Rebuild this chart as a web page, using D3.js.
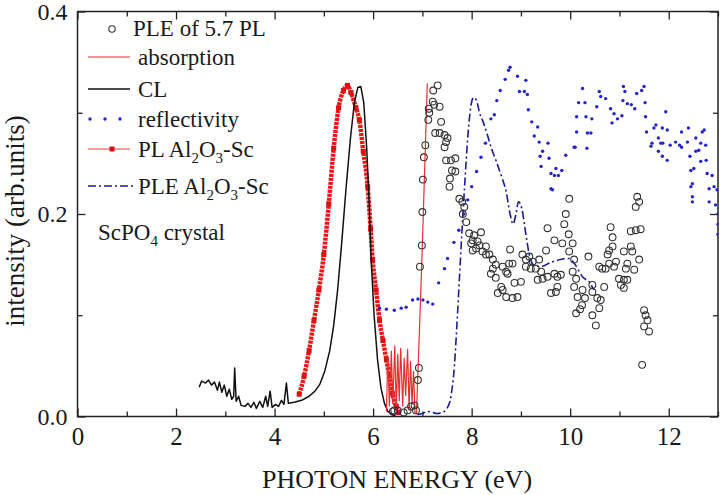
<!DOCTYPE html>
<html>

<head>
    <meta charset="UTF-8">
    <title>ScPO4 crystal spectra</title>
    <script src="https://d3js.org/d3.v7.min.js"></script>
    <style>
        body { margin: 0; background: #fff; }
        text { font-family: "Liberation Serif", "Times New Roman", serif; fill: #1a1a1a; }
    </style>
</head>

<body>

    <script>
        // values: [photon energy eV, intensity]
        var xTicks = [0, 2, 4, 6, 8, 10, 12];
        var xMinor = [1, 3, 5, 7, 9, 11, 13];
        var yTicks = [0, 0.2, 0.4];
        var yMinor = [0.1, 0.3];

        var clData = [[2.47, 0.029], [2.52, 0.035], [2.6, 0.033], [2.66, 0.036], [2.72, 0.031], [2.78, 0.034], [2.84, 0.026], [2.88, 0.034],
            [2.93, 0.024], [2.98, 0.031], [3.03, 0.02], [3.08, 0.027], [3.13, 0.017], [3.17, 0.02], [3.19, 0.048], [3.22, 0.015],
            [3.27, 0.02], [3.32, 0.011], [3.4, 0.01], [3.46, 0.013], [3.52, 0.009], [3.58, 0.014], [3.63, 0.008], [3.7, 0.015],
            [3.76, 0.009], [3.82, 0.02], [3.86, 0.01], [3.91, 0.025], [3.95, 0.009], [4.02, 0.012], [4.08, 0.01], [4.14, 0.016],
            [4.19, 0.012], [4.24, 0.033], [4.28, 0.013], [4.4, 0.014], [4.55, 0.016], [4.7, 0.02], [4.82, 0.025], [4.92, 0.032],
            [5.02, 0.045], [5.12, 0.065], [5.2, 0.09], [5.28, 0.125], [5.36, 0.17], [5.45, 0.225], [5.54, 0.275], [5.62, 0.31],
            [5.69, 0.325], [5.75, 0.326], [5.81, 0.31], [5.87, 0.265], [5.92, 0.21], [5.96, 0.155], [6.02, 0.1], [6.09, 0.056],
            [6.16, 0.028], [6.23, 0.013], [6.3, 0.005], [6.38, 0.002], [6.46, 0]];

        var plData = [[4.5, 0.022], [4.6, 0.04], [4.7, 0.065], [4.8, 0.095], [4.9, 0.125], [5.0, 0.16], [5.1, 0.21], [5.2, 0.265],
            [5.3, 0.305], [5.4, 0.322], [5.48, 0.327], [5.55, 0.32], [5.65, 0.305], [5.72, 0.293], [5.8, 0.262], [5.89, 0.227],
            [5.95, 0.185], [5.99, 0.155], [6.06, 0.125], [6.13, 0.095], [6.2, 0.075], [6.27, 0.056], [6.33, 0.04], [6.39, 0.023],
            [6.47, 0.01], [6.52, 0.004]];

        var absData = [[6.27, 0.005], [6.3, 0.06], [6.33, 0.01], [6.37, 0.065], [6.4, 0.012], [6.44, 0.07], [6.47, 0.005],
            [6.5, 0.062], [6.53, 0.015], [6.56, 0.068], [6.6, 0.01], [6.63, 0.058], [6.66, 0.02], [6.7, 0.067], [6.73, 0.006],
            [6.76, 0.055], [6.79, 0.012], [6.82, 0.045], [6.85, 0.004], [6.88, 0.003], [6.94, 0.085], [7.0, 0.17], [7.05, 0.25],
            [7.1, 0.329]];

        var pleData = [[6.4, 0.005], [6.43, 0.006], [6.5, 0.006], [6.62, 0.004], [6.7, 0.006], [6.77, 0.01], [6.84, 0.011],
            [6.87, 0.006], [6.91, 0.036], [6.93, 0.048], [6.95, 0.148], [6.99, 0.169], [7.0, 0.202], [7.01, 0.234], [7.03, 0.256],
            [7.06, 0.268], [7.12, 0.293], [7.13, 0.304], [7.14, 0.3], [7.21, 0.311], [7.22, 0.322], [7.24, 0.308], [7.26, 0.28],
            [7.31, 0.327], [7.35, 0.306], [7.35, 0.28], [7.38, 0.291], [7.45, 0.278], [7.45, 0.266], [7.48, 0.271], [7.48, 0.253],
            [7.51, 0.275], [7.55, 0.227], [7.56, 0.235], [7.58, 0.253], [7.6, 0.243], [7.67, 0.255], [7.67, 0.242], [7.75, 0.215],
            [7.81, 0.212], [7.82, 0.2], [7.85, 0.207], [7.89, 0.192], [7.95, 0.181], [7.99, 0.171], [8.02, 0.174], [8.02, 0.164],
            [8.05, 0.179], [8.09, 0.166], [8.12, 0.173], [8.16, 0.169], [8.19, 0.182], [8.22, 0.163], [8.29, 0.16], [8.29, 0.168],
            [8.36, 0.16], [8.39, 0.141], [8.43, 0.155], [8.43, 0.146], [8.49, 0.15], [8.49, 0.137], [8.53, 0.122], [8.6, 0.128],
            [8.63, 0.148], [8.63, 0.125], [8.7, 0.143], [8.7, 0.118], [8.73, 0.141], [8.76, 0.151], [8.78, 0.165], [8.83, 0.151],
            [8.83, 0.117], [8.87, 0.132], [8.93, 0.118], [9.0, 0.133], [9.03, 0.16], [9.1, 0.155], [9.1, 0.148], [9.17, 0.158],
            [9.2, 0.146], [9.24, 0.153], [9.3, 0.146], [9.34, 0.135], [9.37, 0.155], [9.41, 0.143], [9.44, 0.136], [9.51, 0.164],
            [9.54, 0.186], [9.54, 0.138], [9.61, 0.122], [9.68, 0.174], [9.68, 0.141], [9.71, 0.123], [9.74, 0.138], [9.74, 0.128],
            [9.81, 0.14], [9.84, 0.171], [9.88, 0.19], [9.91, 0.2], [9.97, 0.18], [9.98, 0.215], [9.98, 0.163], [10.05, 0.171],
            [10.05, 0.143], [10.08, 0.155], [10.08, 0.128], [10.12, 0.136], [10.12, 0.102], [10.15, 0.118], [10.2, 0.106],
            [10.24, 0.11], [10.25, 0.125], [10.3, 0.117], [10.37, 0.158], [10.45, 0.13], [10.45, 0.123], [10.45, 0.1],
            [10.52, 0.09], [10.55, 0.117], [10.59, 0.148], [10.59, 0.107], [10.62, 0.115], [10.65, 0.146], [10.69, 0.128],
            [10.72, 0.146], [10.76, 0.16], [10.79, 0.164], [10.79, 0.151], [10.82, 0.187], [10.86, 0.177], [10.86, 0.168],
            [10.89, 0.148], [10.93, 0.153], [10.99, 0.136], [11.03, 0.13], [11.09, 0.163], [11.09, 0.135], [11.09, 0.127],
            [11.13, 0.146], [11.16, 0.151], [11.16, 0.135], [11.23, 0.183], [11.23, 0.168], [11.26, 0.163], [11.3, 0.145],
            [11.33, 0.184], [11.33, 0.207], [11.36, 0.217], [11.4, 0.212], [11.4, 0.155], [11.43, 0.185], [11.46, 0.051],
            [11.5, 0.105], [11.5, 0.089], [11.53, 0.1], [11.57, 0.095], [11.6, 0.084]];

        var reflData = [[6.13, 0.107], [6.27, 0.106], [6.43, 0.105], [6.57, 0.107], [6.67, 0.108], [6.8, 0.115], [6.91, 0.116],
            [7.01, 0.115], [7.11, 0.113], [7.21, 0.111], [7.33, 0.132], [7.45, 0.146], [7.51, 0.156], [7.64, 0.172], [7.74, 0.184],
            [7.84, 0.2], [7.92, 0.214], [8.0, 0.227], [8.1, 0.242], [8.19, 0.256], [8.28, 0.27], [8.39, 0.294], [8.46, 0.298],
            [8.51, 0.312], [8.58, 0.322], [8.68, 0.333], [8.75, 0.342], [8.78, 0.345], [8.93, 0.336], [8.97, 0.321], [9.07, 0.321],
            [9.1, 0.332], [9.13, 0.318], [9.15, 0.303], [9.22, 0.291], [9.27, 0.277], [9.34, 0.286], [9.37, 0.271], [9.39, 0.257],
            [9.41, 0.247], [9.44, 0.262], [9.55, 0.27], [9.57, 0.255], [9.61, 0.24], [9.61, 0.225], [9.64, 0.224], [9.68, 0.238],
            [9.71, 0.245], [9.76, 0.238], [9.83, 0.243], [9.91, 0.258], [10.08, 0.266], [10.1, 0.266], [10.13, 0.281],
            [10.13, 0.296], [10.17, 0.31], [10.25, 0.324], [10.3, 0.31], [10.32, 0.296], [10.34, 0.265], [10.35, 0.28],
            [10.42, 0.28], [10.44, 0.294], [10.54, 0.306], [10.59, 0.321], [10.62, 0.316], [10.72, 0.314], [10.82, 0.304],
            [10.85, 0.29], [10.89, 0.299], [10.96, 0.294], [11.05, 0.297], [11.07, 0.312], [11.08, 0.326], [11.11, 0.321],
            [11.16, 0.309], [11.24, 0.308], [11.31, 0.304], [11.35, 0.319], [11.45, 0.322], [11.5, 0.326], [11.52, 0.31],
            [11.53, 0.296], [11.55, 0.281], [11.64, 0.267], [11.66, 0.27], [11.7, 0.285], [11.74, 0.288], [11.79, 0.275],
            [11.79, 0.262], [11.84, 0.27], [11.87, 0.285], [11.87, 0.257], [11.88, 0.27], [11.94, 0.301], [11.97, 0.283],
            [11.97, 0.253], [12.03, 0.268], [12.14, 0.271], [12.22, 0.268], [12.26, 0.281], [12.26, 0.266], [12.38, 0.271],
            [12.4, 0.285], [12.43, 0.257], [12.45, 0.243], [12.45, 0.227], [12.48, 0.23], [12.48, 0.217], [12.48, 0.212],
            [12.51, 0.245], [12.55, 0.275], [12.55, 0.262], [12.61, 0.263], [12.65, 0.27], [12.65, 0.252], [12.68, 0.281],
            [12.72, 0.283], [12.75, 0.268], [12.76, 0.253], [12.78, 0.24], [12.82, 0.225], [12.82, 0.212], [12.88, 0.238],
            [12.92, 0.227], [12.95, 0.209], [12.98, 0.224], [13.0, 0.2], [13.0, 0.19], [13.0, 0.18]];

        var pleAlData = [[6.9, 0.002], [7.0, 0.003], [7.1, 0.005], [7.2, 0.004], [7.3, 0.003], [7.4, 0.004], [7.5, 0.008],
            [7.58, 0.02], [7.65, 0.05], [7.7, 0.09], [7.75, 0.135], [7.8, 0.18], [7.86, 0.23], [7.92, 0.275], [7.98, 0.305],
            [8.04, 0.315], [8.1, 0.312], [8.16, 0.3], [8.24, 0.29], [8.32, 0.278], [8.4, 0.265], [8.5, 0.252], [8.6, 0.238],
            [8.7, 0.222], [8.78, 0.2], [8.84, 0.19], [8.9, 0.2], [8.95, 0.212], [9.02, 0.205], [9.1, 0.18], [9.17, 0.16],
            [9.25, 0.15], [9.4, 0.148], [9.6, 0.152], [9.8, 0.155], [9.98, 0.156], [10.1, 0.15], [10.25, 0.138], [10.4, 0.132],
            [10.48, 0.125]];

        var width = 720, height = 495;
        var mLeft = 77.5, mRight = 718, mTop = 11.5, mBottom = 416.5;

        var svg = d3.select("body").append("svg")
            .attr("width", width)
            .attr("height", height);

        var x = d3.scaleLinear().domain([0, 13]).range([mLeft, mRight]);
        var y = d3.scaleLinear().domain([0, 0.4]).range([mBottom, mTop]);

        svg.append("clipPath").attr("id", "plot")
            .append("rect").attr("x", mLeft).attr("y", mTop - 2).attr("width", mRight - mLeft).attr("height", mBottom - mTop + 2);

        // axes, ticks point inward on all four sides
        function styleAxis(g) {
            g.select(".domain").remove();
            g.selectAll("line").attr("stroke", "#222").attr("stroke-width", 1.3);
        }
        svg.append("g").attr("transform", "translate(0," + mBottom + ")")
            .call(d3.axisBottom(x).tickValues(xTicks).tickSizeInner(-8).tickSizeOuter(0).tickPadding(11))
            .call(styleAxis)
            .selectAll("text").attr("font-size", 25).attr("font-family", null).attr("fill", "#1a1a1a");
        svg.append("g").attr("transform", "translate(0," + mBottom + ")")
            .call(d3.axisBottom(x).tickValues(xMinor).tickSizeInner(-5).tickSizeOuter(0).tickFormat(""))
            .call(styleAxis);
        svg.append("g").attr("transform", "translate(0," + mTop + ")")
            .call(d3.axisTop(x).tickValues(xTicks).tickSizeInner(-8).tickSizeOuter(0).tickFormat(""))
            .call(styleAxis);
        svg.append("g").attr("transform", "translate(0," + mTop + ")")
            .call(d3.axisTop(x).tickValues(xMinor).tickSizeInner(-5).tickSizeOuter(0).tickFormat(""))
            .call(styleAxis);

        svg.append("g").attr("transform", "translate(" + mLeft + ",0)")
            .call(d3.axisLeft(y).tickValues(yTicks).tickFormat(d3.format(".1f")).tickSizeInner(-8).tickSizeOuter(0).tickPadding(10))
            .call(styleAxis)
            .selectAll("text").attr("font-size", 24).attr("font-family", null).attr("fill", "#1a1a1a");
        svg.append("g").attr("transform", "translate(" + mLeft + ",0)")
            .call(d3.axisLeft(y).tickValues(yMinor).tickSizeInner(-5).tickSizeOuter(0).tickFormat(""))
            .call(styleAxis);
        svg.append("g").attr("transform", "translate(" + mRight + ",0)")
            .call(d3.axisRight(y).tickValues(yTicks).tickSizeInner(-8).tickSizeOuter(0).tickFormat(""))
            .call(styleAxis);
        svg.append("g").attr("transform", "translate(" + mRight + ",0)")
            .call(d3.axisRight(y).tickValues(yMinor).tickSizeInner(-5).tickSizeOuter(0).tickFormat(""))
            .call(styleAxis);

        // frame
        svg.append("rect")
            .attr("x", mLeft).attr("y", mTop)
            .attr("width", mRight - mLeft).attr("height", mBottom - mTop)
            .attr("fill", "none").attr("stroke", "#222").attr("stroke-width", 1.5);

        // axis titles
        svg.append("text")
            .attr("x", 397).attr("y", 488)
            .attr("text-anchor", "middle").attr("font-size", 26)
            .text("PHOTON ENERGY (eV)");
        svg.append("text")
            .attr("transform", "translate(24,221) rotate(-90)")
            .attr("text-anchor", "middle").attr("font-size", 27)
            .text("intensity (arb.units)");

        var plot = svg.append("g").attr("clip-path", "url(#plot)");

        var line = d3.line()
            .x(function (d) { return x(d[0]) })
            .y(function (d) { return y(d[1]) });
        var smooth = d3.line()
            .x(function (d) { return x(d[0]) })
            .y(function (d) { return y(d[1]) })
            .curve(d3.curveMonotoneX);

        // PL Al2O3-Sc: thick red run of small squares
        plot.append("path")
            .attr("d", smooth(plData))
            .attr("fill", "none")
            .attr("stroke", "#ee1515")
            .attr("stroke-width", 4.5)
            .attr("stroke-dasharray", "3,1");
        plot.selectAll(".plsq").data(plData).enter().append("rect")
            .attr("x", function (d) { return x(d[0]) - 2.5 })
            .attr("y", function (d) { return y(d[1]) - 2.5 })
            .attr("width", 5).attr("height", 5)
            .attr("fill", "#e01010");

        // CL
        plot.append("path")
            .attr("d", line(clData))
            .attr("fill", "none")
            .attr("stroke", "#111")
            .attr("stroke-width", 1.5)
            .attr("stroke-linejoin", "round");

        // absorption
        plot.append("path")
            .attr("d", line(absData))
            .attr("fill", "none")
            .attr("stroke", "#e53030")
            .attr("stroke-width", 1.2);

        // PLE Al2O3-Sc
        plot.append("path")
            .attr("d", smooth(pleAlData))
            .attr("fill", "none")
            .attr("stroke", "#1c1c90")
            .attr("stroke-width", 1.6)
            .attr("stroke-dasharray", "8,3,2,3");

        // reflectivity
        plot.selectAll(".refl").data(reflData).enter().append("circle")
            .attr("cx", function (d) { return x(d[0]) })
            .attr("cy", function (d) { return y(d[1]) })
            .attr("r", 1.7)
            .attr("fill", "#2424d0");

        // PLE of 5.7 PL
        plot.selectAll(".ple").data(pleData).enter().append("circle")
            .attr("cx", function (d) { return x(d[0]) })
            .attr("cy", function (d) { return y(d[1]) })
            .attr("r", 3.4)
            .attr("fill", "none")
            .attr("stroke", "#333")
            .attr("stroke-width", 1.1);

        // legend
        var lg = svg.append("g");
        var fs = 23;
        // parts: plain strings, or {s: "2"} for a subscript
        function label(yy, parts, xx) {
            var t = lg.append("text").attr("x", xx || 138).attr("y", yy).attr("font-size", fs);
            var shift = 0;
            parts.forEach(function (p) {
                if (typeof p === "string") {
                    t.append("tspan").attr("dy", -shift).text(p);
                    shift = 0;
                } else {
                    t.append("tspan").attr("dy", 6 - shift).attr("font-size", 15).text(p.s);
                    shift = 6;
                }
            });
            return t;
        }
        lg.append("circle").attr("cx", 112).attr("cy", 29).attr("r", 3.2)
            .attr("fill", "none").attr("stroke", "#333").attr("stroke-width", 1.1);
        label(36, ["PLE of 5.7 PL"], 133);

        lg.append("line").attr("x1", 88).attr("x2", 130).attr("y1", 57).attr("y2", 57)
            .attr("stroke", "#e53030").attr("stroke-width", 1.2);
        label(65, ["absorption"]);

        lg.append("line").attr("x1", 88).attr("x2", 130).attr("y1", 89).attr("y2", 89)
            .attr("stroke", "#111").attr("stroke-width", 1.5);
        label(97, ["CL"]);

        lg.selectAll(".ld").data([90, 105, 120]).enter().append("circle")
            .attr("cx", function (d) { return d }).attr("cy", 119).attr("r", 1.7).attr("fill", "#2424d0");
        label(127, ["reflectivity"]);

        lg.append("line").attr("x1", 88).attr("x2", 130).attr("y1", 149).attr("y2", 149)
            .attr("stroke", "#f07a7a").attr("stroke-width", 1.5);
        lg.append("rect").attr("x", 109.5).attr("y", 146.5).attr("width", 5).attr("height", 5).attr("fill", "#d01010");
        label(157, ["PL Al", { s: "2" }, "O", { s: "3" }, "-Sc"]);

        lg.append("line").attr("x1", 88).attr("x2", 134).attr("y1", 186).attr("y2", 186)
            .attr("stroke", "#1c1c90").attr("stroke-width", 1.6).attr("stroke-dasharray", "8,3,2,3");
        label(194, ["PLE Al", { s: "2" }, "O", { s: "3" }, "-Sc"]);

        label(240, ["ScPO", { s: "4" }, " crystal"], 98);
    </script>
</body>

</html>
